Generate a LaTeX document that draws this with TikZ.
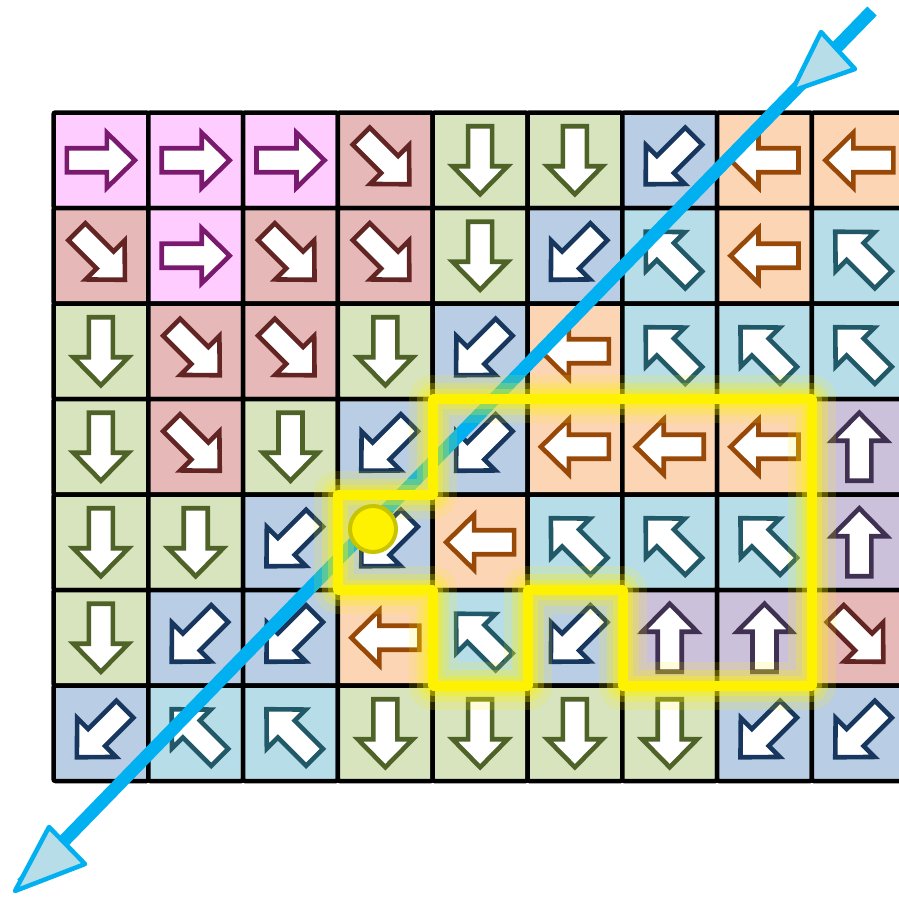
\documentclass[tikz,border=0pt]{standalone}
\definecolor{cR}{HTML}{FFCCFF}\definecolor{aR}{HTML}{7A1A6E}
\definecolor{cDR}{HTML}{E6B9B8}\definecolor{aDR}{HTML}{632523}
\definecolor{cD}{HTML}{D7E4BD}\definecolor{aD}{HTML}{4F6228}
\definecolor{cDL}{HTML}{B9CDE5}\definecolor{aDL}{HTML}{17375E}
\definecolor{cL}{HTML}{FCD5B5}\definecolor{aL}{HTML}{984807}
\definecolor{cUL}{HTML}{B7DEE8}\definecolor{aUL}{HTML}{215968}
\definecolor{cU}{HTML}{CCC1DA}\definecolor{aU}{HTML}{403152}
\definecolor{lineblue}{HTML}{00B0F0}
\definecolor{headfill}{HTML}{B7DEE8}
\definecolor{markedge}{HTML}{C8C400}
\expandafter\def\csname angR\endcsname{0}
\expandafter\def\csname angDR\endcsname{-45}
\expandafter\def\csname angD\endcsname{-90}
\expandafter\def\csname angDL\endcsname{-135}
\expandafter\def\csname angL\endcsname{180}
\expandafter\def\csname angUL\endcsname{135}
\expandafter\def\csname angU\endcsname{90}
\tikzset{
  barrow/.pic={\filldraw[fill=white, draw=#1, line width=4.6]
    (-34,-12) -- (6,-12) -- (6,-27.5) -- (34,0) -- (6,27.5) -- (6,12) -- (-34,12) -- cycle;},
  cellbox/.style={draw=black, line width=4.5, rounded corners=2},
  hlpath/.style={yellow, line join=round, line cap=round},
  bluehead/.style={draw=lineblue, fill=headfill, line width=4.5, line join=round}
}
\begin{document}
\begin{tikzpicture}[x=1pt,y=-1pt]
\useasboundingbox (0,0) rectangle (899,899);
\fill[white] (0,0) rectangle (899,899);
\clip (0,0) rectangle (899,899);
\foreach \row [count=\j from 0] in {
  {R,R,R,DR,D,D,DL,L,L},
  {DR,R,DR,DR,D,DL,UL,L,UL},
  {D,DR,DR,D,DL,L,UL,UL,UL},
  {D,DR,D,DL,DL,L,L,L,U},
  {D,D,DL,DL,L,UL,UL,UL,U},
  {D,DL,DL,L,UL,DL,U,U,DR},
  {DL,UL,UL,D,D,D,D,DL,DL}}{
  \foreach \t [count=\i from 0] in \row {
    \pgfmathsetmacro\cx{53.5+94.8*\i+47.4}
    \pgfmathsetmacro\cy{112.5+95.5*\j+47.75}
    \edef\cc{c\t}\edef\ac{a\t}\edef\ang{\csname ang\t\endcsname}
    \filldraw[cellbox, fill=\cc] (\cx-47.4,\cy-47.75) rectangle ++(94.8,95.5);
    \pic[rotate=\ang] at (\cx,\cy) {barrow=\ac};
  }
}
% blue line
\coordinate (lineA) at (872,11);
\coordinate (lineB) at (22,884);
\draw[lineblue, line width=13] (lineA) -- (lineB);
\filldraw[bluehead] (821,32) -- (855,69) -- (792,91) -- cycle;
\filldraw[bluehead] (49,827) -- (85,864) -- (15,891) -- cycle;
% highlighted region
\def\hl{(338,494.5) -- (433.3,494.5) -- (433.3,399) -- (812,399) -- (812,685.5) -- (622.5,685.5) -- (622.5,590) -- (527.5,590) -- (527.5,685.5) -- (433.3,685.5) -- (433.3,590) -- (338,590) -- cycle}
\draw[hlpath, opacity=0.15, line width=48] \hl;
\draw[hlpath, opacity=0.25, line width=32] \hl;
\draw[hlpath, opacity=0.35, line width=20] \hl;
\draw[hlpath, line width=10] \hl;
\node[circle, fill=yellow, draw=markedge, line width=4, minimum size=46, inner sep=0] (marker) at (373,529) {};
\end{tikzpicture}
\end{document}
